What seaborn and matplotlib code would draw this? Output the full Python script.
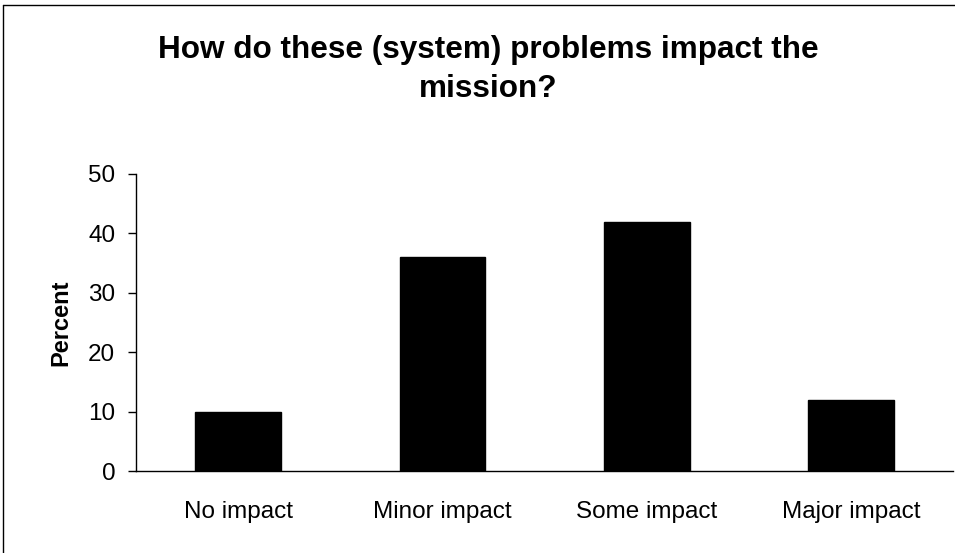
import matplotlib
matplotlib.use("Agg")
import matplotlib.pyplot as plt
import seaborn as sns
import pandas as pd
from matplotlib.lines import Line2D

# Datos
categories = ["No impact", "Minor impact", "Some impact", "Major impact"]
percent = [10, 36, 42, 12]
y_ticks = [0, 10, 20, 30, 40, 50]

df = pd.DataFrame({"category": categories, "percent": percent})

sns.set_style("white")
plt.rcParams["font.family"] = ["Liberation Sans", "DejaVu Sans"]
plt.rcParams["text.color"] = "black"
plt.rcParams["xtick.color"] = "black"
plt.rcParams["ytick.color"] = "black"
plt.rcParams["axes.labelcolor"] = "black"

fig = plt.figure(figsize=(9.55, 5.53), dpi=100)
ax = fig.add_axes([0.1424, 0.1474, 0.998 - 0.1424, 0.6854 - 0.1474])

sns.barplot(data=df, x="category", y="percent", color="black", width=0.42,
            saturation=1, ax=ax, edgecolor="black")

ax.set_xlim(-0.5, len(categories) - 0.5)
ax.set_ylim(0, 50)
ax.set_yticks(y_ticks)
ax.set_yticklabels([str(t) for t in y_ticks], fontsize=17.5)

# etiquetas en el centro, marcas entre categorías
ax.set_xticks(range(len(categories)))
ax.set_xticklabels(categories, fontsize=17.5)
ax.set_xticks([i - 0.5 for i in range(len(categories) + 1)], minor=True)
ax.tick_params(axis="x", which="major", length=0, pad=21)
ax.tick_params(axis="x", which="minor", length=7, width=1, direction="out", color="black")
ax.tick_params(axis="y", length=6, width=1, direction="out", color="black", left=True, pad=9)

for s in ["top", "right"]:
    ax.spines[s].set_visible(False)
for s in ["left", "bottom"]:
    ax.spines[s].set_color("black")
    ax.spines[s].set_linewidth(1)

ax.set_xlabel("")
ax.set_ylabel("Percent", fontsize=17, fontweight="bold", labelpad=11)

fig.text(0.511, 1 - 58 / 553, "How do these (system) problems impact the", ha="center",
         va="baseline", fontsize=22.7, fontweight="bold")
fig.text(0.511, 1 - 97 / 553, "mission?", ha="center", va="baseline", fontsize=22.7,
         fontweight="bold")

# marco exterior del gráfico
fig.add_artist(Line2D([0.003, 0.003], [0.0, 0.991], transform=fig.transFigure, color="black", lw=1))
fig.add_artist(Line2D([0.003, 1.0], [0.991, 0.991], transform=fig.transFigure, color="black", lw=1))

fig.savefig("out.png", dpi=100)
